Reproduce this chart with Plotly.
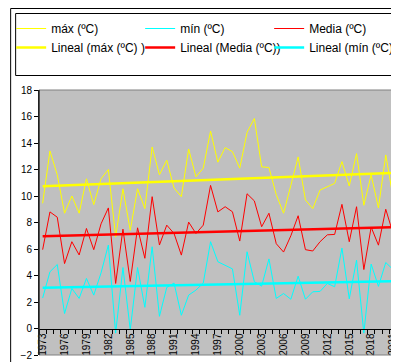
import numpy as np
import plotly.graph_objects as go

years = list(range(1973, 2023))

tmax = [9.45, 13.4, 11.6, 8.7, 10.0, 8.7, 11.3, 9.35, 11.3, 12.0,
        6.9, 10.55, 7.4, 10.55, 9.05, 13.7, 11.6, 12.7, 10.6, 9.95,
        13.55, 11.45, 12.1, 14.9, 12.55, 13.65, 13.35, 12.1, 14.8, 15.85,
        12.2, 12.15, 10.1, 8.7, 10.8, 12.95, 9.7, 9.05, 10.45, 10.7,
        10.95, 12.6, 10.75, 13.2, 9.3, 11.6, 9.1, 13.1, 9.9, 12.35]

tmed = [5.95, 8.8, 8.4, 4.9, 6.55, 5.55, 7.55, 5.95, 7.9, 9.1,
        3.4, 7.5, 3.55, 7.6, 5.3, 9.95, 6.3, 7.8, 7.17, 5.54,
        8.03, 7.17, 7.8, 10.8, 8.8, 9.19, 8.81, 6.6, 10.17, 9.63,
        7.68, 8.7, 6.4, 5.77, 7.0, 8.51, 5.95, 5.85, 6.55, 7.07,
        7.1, 9.37, 6.55, 9.19, 4.45, 7.65, 6.29, 9.0, 7.17, 7.4]

tmin = [2.3, 4.28, 4.83, 1.13, 3.02, 2.27, 3.78, 2.52, 4.2, 6.3,
        -0.35, 4.6, -0.1, 4.6, 1.6, 6.17, 0.92, 3.1, 3.43, 1.0,
        2.52, 2.9, 3.43, 6.55, 5.04, 4.78, 4.5, 1.0, 5.79, 3.53,
        3.2, 5.25, 2.27, 2.64, 2.21, 3.95, 2.21, 2.77, 2.8, 3.4,
        3.15, 6.07, 2.24, 5.16, -0.35, 4.86, 3.18, 4.98, 4.45, 2.39]

tick_years = [1973, 1976, 1979, 1982, 1985, 1988, 1991, 1994, 1997,
              2000, 2003, 2006, 2009, 2012, 2015, 2018, 2021]

names = ["máx (ºC)", "mín (ºC)", "Media (ºC)",
         "Lineal (máx (ºC) )", "Lineal (Media (ºC))", "Lineal (mín (ºC) )"]

YELLOW = "#FFFF00"
CYAN = "#00FFFF"
RED = "#FF0000"


def trend(vals):
    x = np.array(years, dtype=float)
    a, b = np.polyfit(x, np.array(vals), 1)
    return list(a * x + b)


W, H = 399, 362
L, R, T, B = 29, 3, 82, 15
PW, PH = W - L - R, H - T - B


def px(x):
    return (x - L) / PW


def py(y):
    return (H - B - y) / PH


fig = go.Figure()
fig.add_trace(go.Scatter(x=years, y=tmax, mode="lines", name=names[0],
                         line=dict(color=YELLOW, width=1)))
fig.add_trace(go.Scatter(x=years, y=tmin, mode="lines", name=names[1],
                         line=dict(color=CYAN, width=1)))
fig.add_trace(go.Scatter(x=years, y=tmed, mode="lines", name=names[2],
                         line=dict(color=RED, width=1)))
fig.add_trace(go.Scatter(x=years, y=trend(tmax), mode="lines", name=names[3],
                         line=dict(color=YELLOW, width=2.5)))
fig.add_trace(go.Scatter(x=years, y=trend(tmed), mode="lines", name=names[4],
                         line=dict(color=RED, width=2.5)))
fig.add_trace(go.Scatter(x=years, y=trend(tmin), mode="lines", name=names[5],
                         line=dict(color=CYAN, width=2.5)))

font = "Arial, Liberation Sans, sans-serif"

fig.update_layout(
    width=W, height=H,
    margin=dict(l=L, r=R, t=T, b=B),
    paper_bgcolor="white",
    plot_bgcolor="#C0C0C0",
    font=dict(family=font, size=10, color="black"),
    showlegend=True,
    legend=dict(
        orientation="h",
        x=px(1), y=py(6), xanchor="left", yanchor="top",
        font=dict(family=font, size=12, color="black"),
        entrywidth=84, entrywidthmode="pixels",
        bgcolor="rgba(0,0,0,0)",
        tracegroupgap=0,
    ),
    xaxis=dict(
        range=[1972.5, 2022.5],
        anchor="free", position=0.1,
        showgrid=False, zeroline=False,
        showline=True, linecolor="black", linewidth=1,
        tickmode="array", tickvals=tick_years,
        ticktext=[str(v) for v in tick_years],
        tickangle=-90, ticks="",
        tickfont=dict(family=font, size=10, color="black"),
        minor=dict(tick0=1972.5, dtick=1, ticks="outside", ticklen=4,
                   tickcolor="black", showgrid=False),
    ),
    yaxis=dict(
        range=[-2, 18], dtick=2,
        showgrid=False, zeroline=False,
        showline=True, linecolor="black", linewidth=1,
        ticks="outside", ticklen=4, tickcolor="black",
        tickfont=dict(family=font, size=10, color="black"),
    ),
    shapes=[
        dict(type="rect", xref="paper", yref="paper", x0=0, x1=1, y0=0, y1=1,
             line=dict(color="#808080", width=1)),
        dict(type="line", xref="paper", yref="paper", x0=0, x1=0, y0=0, y1=1,
             line=dict(color="black", width=1)),
        dict(type="rect", xref="paper", yref="paper",
             x0=px(5.5), x1=px(397.5), y0=py(67.5), y1=py(5.5),
             line=dict(color="black", width=1)),
        dict(type="rect", xref="paper", yref="paper",
             x0=px(0.5), x1=px(398.5), y0=py(361.5), y1=py(0.5),
             line=dict(color="black", width=1)),
    ],
)

fig.write_html("out.html")
